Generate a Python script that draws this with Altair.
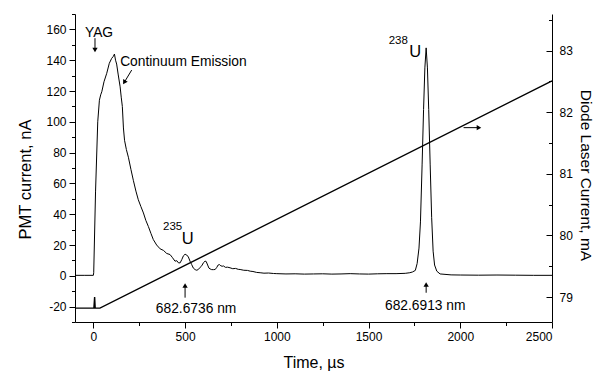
import altair as alt
import pandas as pd

# ---- data ----
pmt_t = [-100, -50, 0, 2, 12, 24, 33, 40, 46, 58, 73, 87, 100, 109, 115, 121, 127, 135, 146, 152, 158,
         164, 170, 180, 191, 205, 218, 232, 245, 259, 273, 286, 300, 314, 327, 345, 364, 382, 400, 418,
         430, 445, 455, 464, 473, 482, 491, 500, 509, 518, 527, 536, 545, 555, 564, 573, 582, 591, 600,
         609, 615, 623, 630, 636, 645, 655, 664, 673, 680, 687, 695, 702, 709, 720, 732, 745, 760, 775,
         790, 800, 820, 840, 855, 870, 890, 909, 930, 955, 982, 1000, 1050, 1100, 1150, 1200, 1250, 1300,
         1350, 1400, 1450, 1500, 1550, 1600, 1650, 1700, 1725, 1740, 1755, 1765, 1775, 1783, 1792, 1800,
         1807, 1814, 1821, 1828, 1836, 1844, 1852, 1860, 1872, 1890, 1950, 2000, 2100, 2200, 2300, 2400, 2500]
pmt_nA = [0.3, 0.3, 0.3, 2, 55, 100, 114, 117.5, 119.5, 126, 131.5, 138, 141.2, 142.5, 144, 140, 137.5, 131,
          122.7, 116, 110, 96, 88, 82, 77, 69, 62, 55, 49.4, 45, 40.8, 36, 32, 27.5, 23.5, 20, 17.5, 16.5,
          14.5, 13.8, 12, 9.5, 9.8, 8.4, 8.4, 10.5, 13, 14, 13.5, 12.2, 9.5, 7.3, 5, 4, 3.6, 4.2, 5.5, 6.5,
          8.5, 9.5, 9.3, 7, 5, 4.5, 4, 4, 4.1, 5.5, 7, 7.3, 6.5, 6.2, 6.4, 5.5, 5.6, 5.2, 4.6, 4.8, 4.2, 4.1,
          3.6, 3.5, 3, 2.8, 2.2, 2, 1.7, 1.8, 1.5, 1.4, 1.2, 1.3, 1.1, 1.2, 1.3, 1.1, 1.2, 1.4, 1.2, 1.1,
          1.3, 1.4, 1.4, 1.6, 2, 2.5, 3.5, 8, 18, 35, 72, 108, 135, 148, 135, 108, 72, 38, 16, 7, 3, 1.2,
          0.6, 0.5, 0.4, 0.5, 0.4, 0.3, 0.3]

laser_t = [-100, 3, 7, 10, 36, 2500]
laser_mA = [78.82, 78.82, 79.0, 78.82, 78.82, 82.51]

x_ticks = list(range(0, 2501, 250))
left_ticks = list(range(-30, 171, 10))
right_label_ticks = [79, 80, 81, 82, 83]
right_ticks = [79, 79.5, 80, 80.5, 81, 81.5, 82, 82.5, 83, 83.5]

# annotations
ann_text = ["YAG", "Continuum Emission", "235", "U", "238", "U", "682.6736 nm", "682.6913 nm"]
ann_tx = [31, 491, 432, 514, 1662, 1755, 560, 1809]
ann_ty = [157.6, 139, 31.7, 24.2, 152.4, 145.4, -21.4, -19.7]
ann_fs = [13.8, 13.8, 11.5, 16.5, 11.5, 16.5, 13.8, 13.8]

arr_t1 = [9, 209, 500, 1814, 2018]
arr_y1 = [154.3, 133.6, -14.2, -11, 96.2]
arr_t2 = [9, 168.5, 500, 1814, 2102]
arr_y2 = [146.6, 125.6, -6.3, -5.6, 96.2]
arr_angle = [180, 211, 0, 0, 90]

pmt_df = pd.DataFrame({"t": pmt_t, "nA": pmt_nA})
laser_df = pd.DataFrame({"t": laser_t, "mA": laser_mA})
text_df = pd.DataFrame({"txt": ann_text, "t": ann_tx, "y": ann_ty, "fs": ann_fs})
arr_df = pd.DataFrame({"t1": arr_t1, "y1": arr_y1, "t2": arr_t2, "y2": arr_y2, "ang": arr_angle})

W, H = 477, 308
FONT = "Liberation Sans"

xscale = alt.Scale(domain=[-100, 2500], nice=False, zero=False)
lscale = alt.Scale(domain=[-30, 170], nice=False, zero=False)
rscale = alt.Scale(domain=[78.595, 83.595], nice=False, zero=False)

x_axis = alt.Axis(
    values=x_ticks,
    labelExpr="datum.value % 500 === 0 ? '' + datum.value : ''",
    tickSize={"condition": {"test": "datum.value % 500 === 0", "value": 6}, "value": 3.5},
    labelPadding=3, title="Time, µs", titleFontSize=16, titlePadding=12,
)
left_axis = alt.Axis(
    values=left_ticks,
    labelExpr="datum.value % 20 === 0 ? '' + datum.value : ''",
    tickSize={"condition": {"test": "datum.value % 20 === 0", "value": 6}, "value": 3.5},
    labelPadding=3, title="PMT current, nA", titleFontSize=16.5, titlePadding=12, titleY=165,
)

pmt = alt.Chart(pmt_df).mark_line(color="black", strokeWidth=1).encode(
    x=alt.X("t:Q", scale=xscale, axis=x_axis),
    y=alt.Y("nA:Q", scale=lscale, axis=left_axis),
)

texts = alt.Chart(text_df).mark_text(color="black", font=FONT, align="center", baseline="middle").encode(
    x=alt.X("t:Q", scale=xscale, axis=x_axis),
    y=alt.Y("y:Q", scale=lscale, axis=left_axis),
    text="txt:N",
    size=alt.Size("fs:Q", scale=None, legend=None),
)

shafts = alt.Chart(arr_df).mark_rule(color="black", strokeWidth=1).encode(
    x=alt.X("t1:Q", scale=xscale, axis=x_axis),
    y=alt.Y("y1:Q", scale=lscale, axis=left_axis),
    x2="t2:Q",
    y2="y2:Q",
)

heads = alt.Chart(arr_df).mark_point(shape="triangle-up", filled=True, color="black", opacity=1, size=28).encode(
    x=alt.X("t2:Q", scale=xscale, axis=x_axis),
    y=alt.Y("y2:Q", scale=lscale, axis=left_axis),
    angle=alt.Angle("ang:Q", scale=None),
)

left_layer = alt.layer(pmt, shafts, heads, texts)

laser = alt.Chart(laser_df).mark_line(color="black", strokeWidth=1.4).encode(
    x=alt.X("t:Q", scale=xscale, axis=x_axis),
    y=alt.Y("mA:Q", scale=rscale, axis=alt.Axis(
        orient="right", values=right_label_ticks, ticks=False, tickSize=0, labelPadding=7,
        title="Diode Laser Current, mA", titleFontSize=15.5, titlePadding=5, titleY=161,
    )),
)

laser_ticks = alt.Chart(laser_df).mark_line(opacity=0).encode(
    x=alt.X("t:Q", scale=xscale, axis=x_axis),
    y=alt.Y("mA:Q", scale=rscale, axis=alt.Axis(
        orient="left", offset=-W, values=right_ticks, labels=False, domain=False, title=None,
        tickSize={"condition": {"test": "datum.value % 1 === 0", "value": 6}, "value": 3.5},
    )),
)

right_layer = alt.layer(laser, laser_ticks).resolve_axis(y="independent")

chart = alt.layer(left_layer, right_layer).resolve_scale(y="independent").properties(
    width=W, height=H,
    autosize=alt.AutoSizeParams(type="none"),
    padding={"left": 67, "top": 6, "right": 55, "bottom": 50},
).configure_view(stroke=None).configure_axis(
    grid=False, labelFont=FONT, titleFont=FONT, labelFontSize=12, labelColor="black",
    titleColor="black", titleFontWeight="normal", domainColor="black", tickColor="black",
    domainWidth=1, tickWidth=1,
).configure_text(font=FONT)

chart.save("out.html", embed_options={"renderer": "svg", "actions": False})
